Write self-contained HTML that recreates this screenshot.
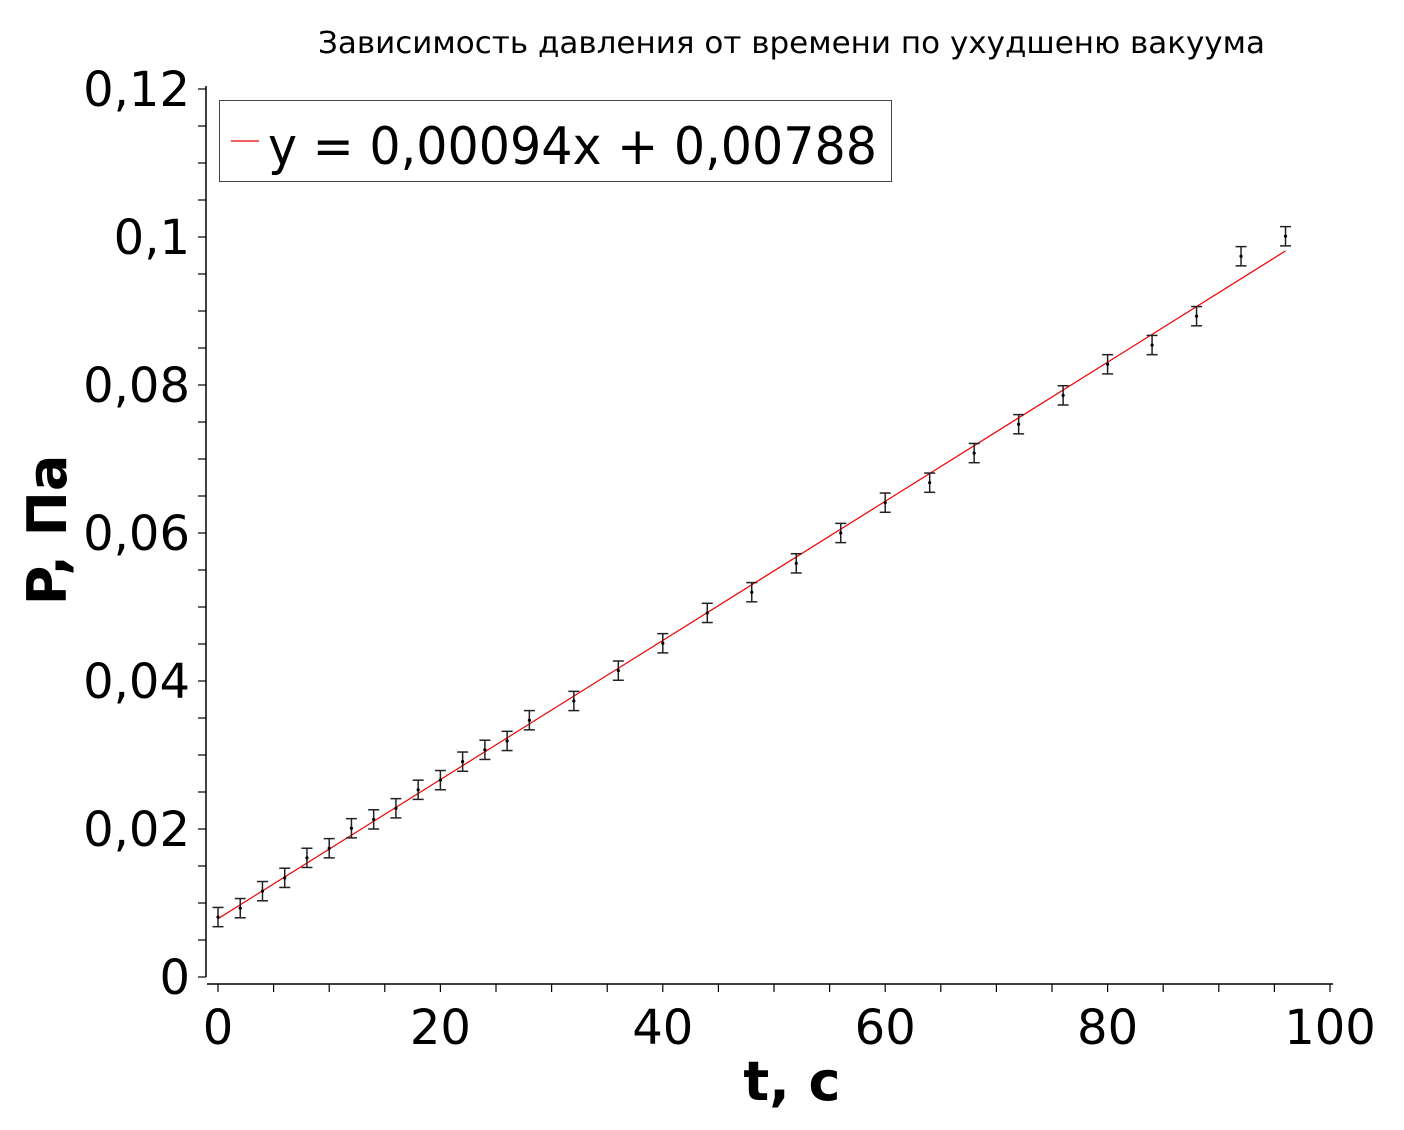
<!DOCTYPE html>
<html><head><meta charset="utf-8"><style>
body{margin:0;background:#fff}
svg text{font-family:"DejaVu Sans","Liberation Sans",sans-serif}
</style></head><body>
<svg id="c" width="1404" height="1125" xmlns="http://www.w3.org/2000/svg">
<text x="318" y="53" font-size="30" textLength="947" lengthAdjust="spacingAndGlyphs">Зависимость давления от времени по ухудшеню вакуума</text>
<g id="axes"></g>
<g id="marks"></g>
<g>
<rect x="219.5" y="100.5" width="672" height="81" fill="#fff" stroke="#444" stroke-width="1"/>
<line x1="231" y1="141" x2="259" y2="141" stroke="#e00" stroke-width="1.2"/>
<text x="268" y="164" font-size="52" textLength="609" lengthAdjust="spacingAndGlyphs">y = 0,00094x + 0,00788</text>
</g>
<text x="792" y="1100" font-size="54" font-weight="bold" text-anchor="middle">t, c</text>
<text transform="translate(66,530) rotate(-90)" font-size="54" font-weight="bold" text-anchor="middle">P, Па</text>
</svg>
<script>
const xs=[0,2,4,6,8,10,12,14,16,18,20,22,24,26,28,32,36,40,44,48,52,56,60,64,68,72,76,80,84,88,92,96];
const ys=[0.0081,0.0093,0.0116,0.0134,0.0161,0.0174,0.0201,0.0213,0.0228,0.0253,0.0266,0.0291,0.0307,0.0319,0.0347,0.0373,0.0414,0.0451,0.0492,0.0520,0.0559,0.0600,0.0641,0.0668,0.0708,0.0747,0.0786,0.0828,0.0854,0.0893,0.0974,0.1001];
const errs=0.0013;
const slope=0.00094, intercept=0.00788;
const xTicks=[0,20,40,60,80,100];
const yTicks=[0,0.02,0.04,0.06,0.08,0.1,0.12];
const yTickLabels=["0","0,02","0,04","0,06","0,08","0,1","0,12"];
const NS="http://www.w3.org/2000/svg";
const X=v=>218+v*11.12;
const Y=v=>977-v*7400;
function mk(p,t,a){const e=document.createElementNS(NS,t);for(const k in a)e.setAttribute(k,a[k]);p.appendChild(e);return e;}
const ax=document.getElementById('axes'), mg=document.getElementById('marks');
let l=mk(ax,'line',{x1:206,y1:Y(0.12)-3,x2:206,y2:Y(0),stroke:'#000','stroke-width':1.5});


l=mk(ax,'line',{x1:207,y1:984,x2:1333,y2:984,stroke:'#000','stroke-width':1.5});


for(let v=0;v<=0.1201;v+=0.005){const y=Y(v);mk(ax,'line',{x1:198,y1:y,x2:206,y2:y,stroke:'#000','stroke-width':1.2});}
for(let v=0;v<=100;v+=5){const x=X(v);mk(ax,'line',{x1:x,y1:984,x2:x,y2:992,stroke:'#000','stroke-width':1.2});}
yTicks.forEach((v,i)=>{const t=mk(ax,'text',{x:190,y:Y(v)+17,'font-size':48,'text-anchor':'end'});t.textContent=yTickLabels[i];

});
xTicks.forEach(v=>{const t=mk(ax,'text',{x:X(v),y:1044,'font-size':48,'text-anchor':'middle'});t.textContent=v;

});
const fit=mk(mg,'line',{x1:X(0),y1:Y(intercept),x2:X(96),y2:Y(intercept+slope*96),stroke:'#e00','stroke-width':1.2});


xs.forEach((xv,i)=>{const g=mk(mg,'g',{});


const x=X(xv),y=Y(ys[i]),t=Y(ys[i]+errs),b=Y(ys[i]-errs);
mk(g,'line',{x1:x,y1:t,x2:x,y2:b,stroke:'#222','stroke-width':1.5});
mk(g,'line',{x1:x-5.5,y1:t,x2:x+5.5,y2:t,stroke:'#222','stroke-width':1.5});
mk(g,'line',{x1:x-5.5,y1:b,x2:x+5.5,y2:b,stroke:'#222','stroke-width':1.5});
mk(g,'circle',{cx:x,cy:y,r:1.6,fill:'#000'});});
</script>
</body></html>
